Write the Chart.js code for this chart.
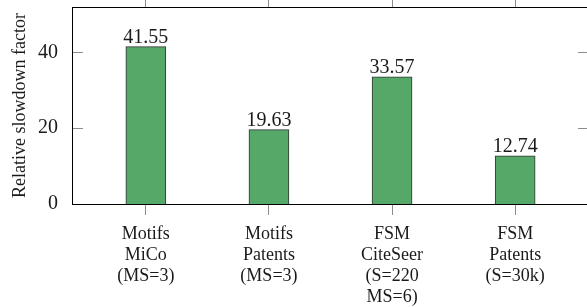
<!DOCTYPE html>
<html>
<head>
<meta charset="utf-8">
<script src="https://cdn.jsdelivr.net/npm/chart.js@4"></script>
<style>
html,body{margin:0;padding:0;overflow:hidden;background:#fff;width:587px;height:307px;}
canvas{display:block;}
</style>
</head>
<body>
<canvas id="c" width="600" height="307"></canvas>
<script>
const categories = [
  ["Motifs", "MiCo", "(MS=3)"],
  ["Motifs", "Patents", "(MS=3)"],
  ["FSM", "CiteSeer", "(S=220", "MS=6)"],
  ["FSM", "Patents", "(S=30k)"]
];
const slowdown = [41.55, 19.63, 33.57, 12.74];
const valueLabels = ["41.55", "19.63", "33.57", "12.74"];
const yTickValues = [0, 20, 40];
const yTitle = "Relative slowdown factor";

const SERIF = "'Liberation Serif', 'Times New Roman', serif";
const TEXT = '#1a1a1a';
const TICK = '#8c8c8c';

const framePlugin = {
  id: 'frame',
  afterDatasetsDraw(chart) {
    const ctx = chart.ctx;
    const ca = chart.chartArea;
    const y = chart.scales.y;
    ctx.save();
    ctx.strokeStyle = TICK;
    ctx.lineWidth = 1;
    y.ticks.forEach(t => {
      const py = Math.round(y.getPixelForValue(t.value)) + 0.5;
      ctx.beginPath();
      ctx.moveTo(ca.left, py); ctx.lineTo(ca.left + 11, py);
      ctx.moveTo(ca.right - 11, py); ctx.lineTo(ca.right, py);
      ctx.stroke();
    });
    ctx.strokeStyle = '#000';
    ctx.lineWidth = 1;
    ctx.strokeRect(Math.round(ca.left) + 0.5, Math.round(ca.top) + 0.5,
                   Math.round(ca.right - ca.left), Math.round(ca.bottom - ca.top));
    ctx.fillStyle = TEXT;
    ctx.font = "20px " + SERIF;
    ctx.textAlign = 'center';
    ctx.textBaseline = 'alphabetic';
    const meta = chart.getDatasetMeta(0);
    meta.data.forEach((bar, i) => {
      ctx.fillText(valueLabels[i], bar.x, bar.y - 4);
    });
    ctx.restore();
  }
};

new Chart(document.getElementById('c'), {
  type: 'bar',
  data: {
    datasets: [{
      data: slowdown.map((v, i) => ({x: i, y: v})),
      backgroundColor: '#55a868',
      borderColor: '#333333',
      borderWidth: 1,
      barThickness: 40
    }]
  },
  options: {
    responsive: false,
    devicePixelRatio: 1,
    animation: false,
    layout: {padding: {left: 0, right: 11, top: 0, bottom: 0}},
    plugins: {legend: {display: false}, tooltip: {enabled: false}},
    scales: {
      x: {
        type: 'linear',
        position: 'bottom',
        offset: false,
        min: -0.6,
        max: 3.6,
        afterBuildTicks: s => { s.ticks = categories.map((c, i) => ({value: i})); },
        afterFit: s => { s.height = 103; s.paddingLeft = 0; s.paddingRight = 0; },
        grid: {display: true, offset: false, drawOnChartArea: false, drawTicks: true, tickLength: 11, color: TICK, tickColor: TICK},
        border: {display: false},
        ticks: {
          autoSkip: false, maxRotation: 0, minRotation: 0, padding: 9,
          color: TEXT,
          font: {family: SERIF, size: 18, lineHeight: 1.17},
          callback: v => categories[v]
        }
      },
      xTop: {
        type: 'linear',
        position: 'top',
        offset: false,
        min: -0.6,
        max: 3.6,
        afterBuildTicks: s => { s.ticks = categories.map((c, i) => ({value: i})); },
        afterFit: s => { s.height = 7; s.paddingLeft = 0; s.paddingRight = 0; },
        grid: {display: true, offset: false, drawOnChartArea: false, drawTicks: true, tickLength: 7, color: TICK, tickColor: TICK},
        border: {display: false},
        ticks: {display: false}
      },
      y: {
        type: 'linear',
        position: 'left',
        min: 0,
        max: 52,
        afterBuildTicks: s => { s.ticks = yTickValues.map(v => ({value: v})); },
        afterFit: s => { s.width = 72; s.paddingTop = 0; s.paddingBottom = 0; },
        grid: {display: false},
        border: {display: false},
        ticks: {padding: 6, color: TEXT, font: {family: SERIF, size: 20}},
        title: {display: true, text: yTitle, color: TEXT, font: {family: SERIF, size: 18}, padding: {top: 9, bottom: 0}}
      }
    }
  },
  plugins: [framePlugin]
});
</script>
</body>
</html>
